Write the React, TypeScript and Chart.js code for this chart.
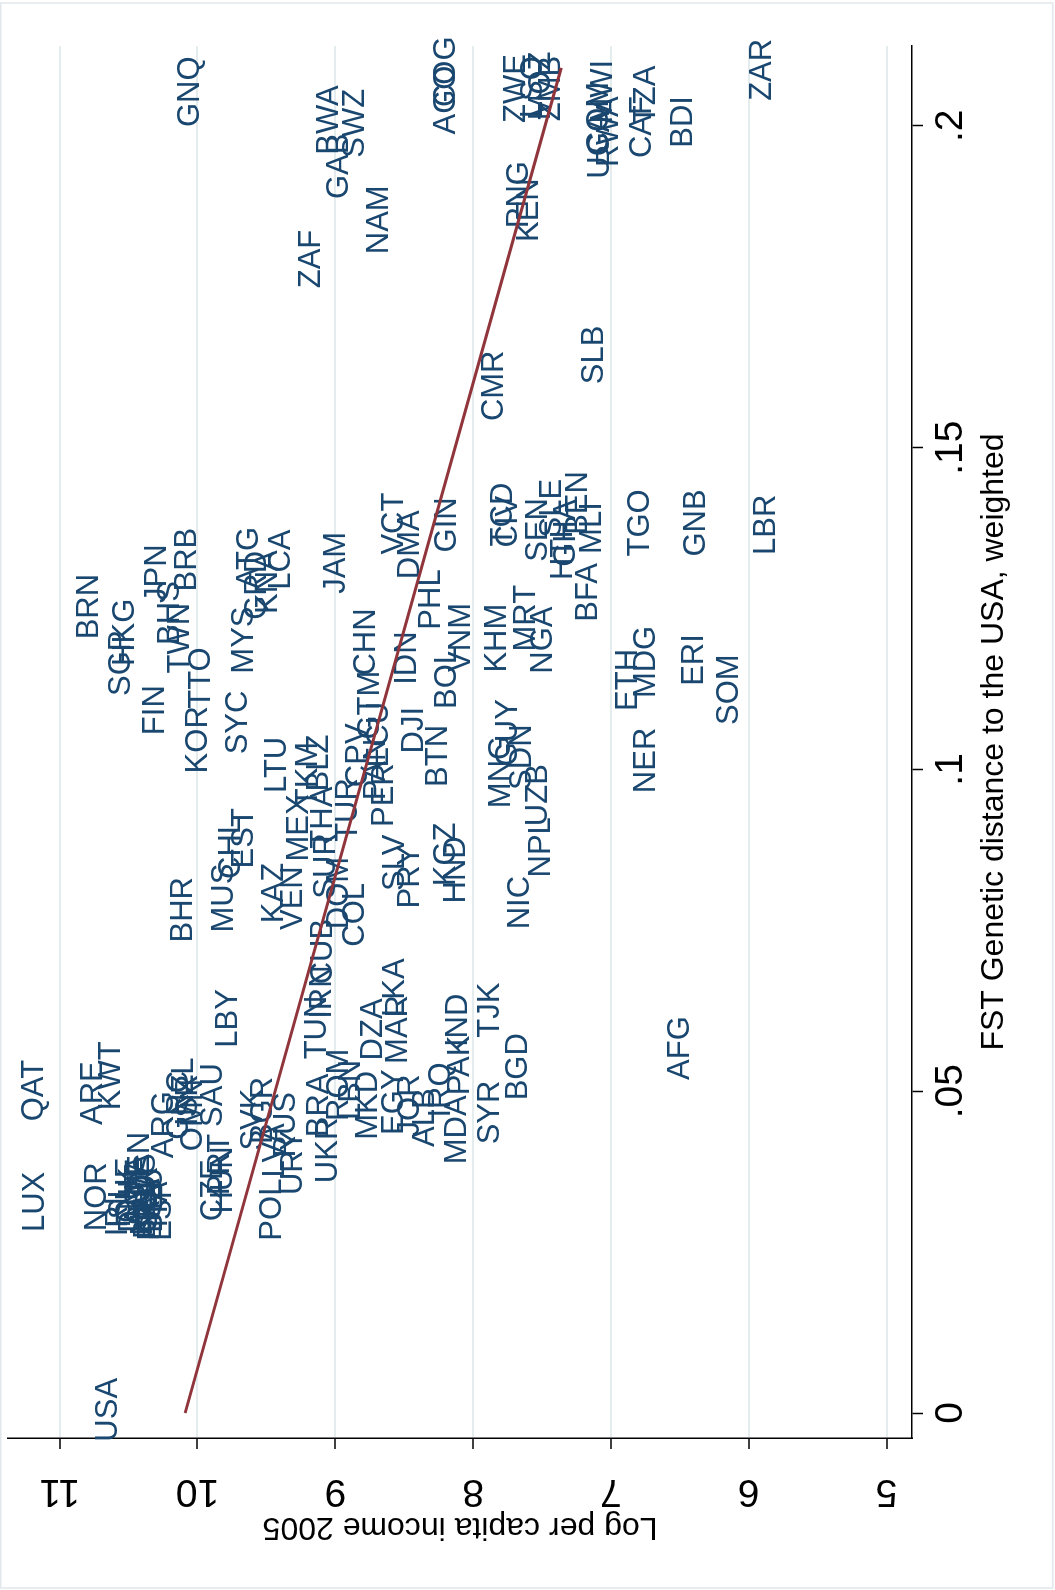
import React, { useEffect, useRef } from "react";
import { Chart, registerables } from "chart.js";

Chart.register(...registerables);

// ---------------- data ----------------
const countries = [
  "USA","LUX","QAT","ARE","KWT","NOR","IRL","ISL","CHE","DNK","CAN","AUT","NLD","BEL","SWE","AUS","GBR","FRA","DEU","ITA","ESP","ARG","NZL","GRC","ISR","OMN","SAU","CZE","PRT","HUN",
  "LBY","SVK","BGR","POL","RUS","LVA","URY","UKR","BRA","TUN","IRN","CUB","ROM","LBN","MKD","DZA","MAR","LKA","EGY","JOR","ALB","IRQ","MDA","PAK","IND","TJK","SYR","BGD","AFG",
  "BHR","MUS","CHL","EST","LTU","KAZ","VEN","MEX","TKM","BLZ","THA","SUR","TUR","DOM","COL","CPV","CHN","GTM","ECU","PAN","PER","SLV","PRY","IDN","DJI","BTN","PHL","DMA","VCT","JAM","GIN","VNM","BOL","KGZ","HND",
  "MNG","GUY","SDN","UZB","NPL","NIC","KHM","MRT","NGA","TCD","CIV","SEN","SLE","GHA","HTI","BEN","MLI","BFA","TGO","GNB","LBR","ETH","MDG","NER","ERI","SOM","CMR","SLB",
  "ZAF","GNQ","BWA","SWZ","GAB","NAM","AGO","COG","ZWE","LSO","MOZ","ZMB","PNG","KEN","MWI","RWA","UGA","COM","CAF","TZA","BDI","ZAR",
  "BRN","SGP","HKG","FIN","JPN","BHS","TWN","BRB","KOR","TTO","SYC","MYS","ATG","GRD","KNA","LCA"
];

const fstDistance = [
  0.0005,0.0328,0.0501,0.0497,0.0524,0.0336,0.0312,0.0324,0.0346,0.0331,0.0386,0.0338,0.0324,0.0316,0.0346,0.0354,0.0331,0.0316,0.0331,0.0324,0.0316,0.0448,0.0507,0.0478,0.0486,0.0463,0.0494,0.0346,0.0386,0.0362,
  0.0613,0.0456,0.0470,0.0316,0.0448,0.0408,0.0389,0.0408,0.0478,0.0599,0.0654,0.0717,0.0510,0.0502,0.0478,0.0596,0.0596,0.0661,0.0483,0.0478,0.0459,0.0502,0.0440,0.0540,0.0610,0.0626,0.0467,0.0538,0.0567,
  0.0782,0.0800,0.0878,0.0893,0.1007,0.0808,0.0800,0.0909,0.0992,0.1010,0.0925,0.0850,0.0937,0.0808,0.0774,0.1022,0.1198,0.1100,0.1054,0.1000,0.0960,0.0855,0.0833,0.1173,0.1061,0.1021,0.1264,0.1349,0.1382,0.1321,0.1380,0.1205,0.1142,0.0868,0.0844,
  0.0996,0.1057,0.1019,0.0960,0.0879,0.0793,0.1204,0.1235,0.1201,0.1396,0.1385,0.1372,0.1406,0.1367,0.1333,0.1414,0.1375,0.1275,0.1383,0.1383,0.1380,0.1139,0.1167,0.1014,0.1170,0.1124,0.1596,0.1644,
  0.1793,0.2053,0.2009,0.2004,0.1937,0.1854,0.2040,0.2084,0.2058,0.2060,0.2062,0.2058,0.1893,0.1869,0.2053,0.1991,0.1970,0.2012,0.1998,0.2048,0.2006,0.2087,
  0.1253,0.1165,0.1213,0.1092,0.1304,0.1243,0.1204,0.1326,0.1046,0.1142,0.1073,0.1201,0.1329,0.1286,0.1291,0.1326
];

const logIncome = [
  10.65,11.18,11.19,10.76,10.63,10.73,10.58,10.56,10.51,10.49,10.42,10.44,10.40,10.38,10.42,10.38,10.36,10.35,10.33,10.29,10.26,10.25,10.10,10.14,10.07,10.04,9.89,9.89,9.84,9.82,
  9.78,9.60,9.53,9.46,9.36,9.44,9.31,9.06,9.12,9.14,9.10,9.09,8.98,8.89,8.77,8.73,8.55,8.57,8.58,8.46,8.35,8.24,8.12,8.10,8.11,7.88,7.88,7.68,6.50,
  10.11,9.81,9.76,9.67,9.43,9.45,9.31,9.27,9.20,9.12,9.09,9.07,8.91,8.98,8.86,8.84,8.78,8.75,8.69,8.71,8.65,8.57,8.46,8.48,8.43,8.26,8.31,8.46,8.58,9.00,8.19,8.09,8.19,8.20,8.13,
  7.80,7.75,7.65,7.53,7.51,7.66,7.83,7.62,7.50,7.79,7.75,7.53,7.43,7.33,7.35,7.24,7.14,7.17,6.79,6.39,5.88,6.88,6.75,6.75,6.40,6.15,7.85,7.13,
  9.18,10.06,9.05,8.86,8.98,8.69,8.20,8.20,7.69,7.57,7.51,7.44,7.67,7.60,7.06,7.02,7.08,7.09,6.78,6.75,6.48,5.91,
  10.79,10.56,10.53,10.31,10.30,10.20,10.13,10.08,10.00,9.98,9.71,9.67,9.63,9.57,9.49,9.40
];

const fitFst = [0, 0.209];
const fitIncome = [10.09, 7.36];

const fstTicks = [0, 0.05, 0.1, 0.15, 0.2];
const fstTickLabels = ["0", ".05", ".1", ".15", ".2"];
const incomeTicks = [5, 6, 7, 8, 9, 10, 11];
const incomeTickLabels = ["5", "6", "7", "8", "9", "10", "11"];

const xTitle = "FST Genetic distance to the USA, weighted";
const yTitle = "Log per capita income 2005";

// ---------------- styles ----------------
const W = 1590;
const H = 1055;
const NAVY = "#1a476f";
const MAROON = "#90353b";
const GRID = "#e4ecee";
const FONT = '"Liberation Sans", Arial, Helvetica, sans-serif';

export default function App() {
  const ref = useRef<HTMLCanvasElement | null>(null);

  useEffect(() => {
    const canvas = ref.current;
    if (!canvas) return;

    const bgPlugin = {
      id: "bgFrame",
      beforeDraw(chart: any) {
        const ctx = chart.ctx;
        ctx.save();
        ctx.fillStyle = "#ffffff";
        ctx.fillRect(0, 0, chart.width, chart.height);
        ctx.strokeStyle = "#e2e7eb";
        ctx.lineWidth = 1.5;
        ctx.strokeRect(2, 0.75, 1585, 1052);
        ctx.restore();
      },
    };

    const labelPlugin = {
      id: "countryLabels",
      beforeDatasetsDraw(chart: any) {
        const meta = chart.getDatasetMeta(0);
        const ctx = chart.ctx;
        ctx.save();
        ctx.fillStyle = NAVY;
        ctx.font = `31px ${FONT}`;
        ctx.textAlign = "center";
        ctx.textBaseline = "middle";
        meta.data.forEach((el: any, i: number) => {
          ctx.fillText(countries[i], el.x, el.y + 1);
        });
        ctx.restore();
      },
    };

    const axisTextPlugin = {
      id: "axisText",
      afterDraw(chart: any) {
        const ctx = chart.ctx;
        const xs = chart.scales.x;
        const ys = chart.scales.y;
        const ca = chart.chartArea;
        ctx.save();
        ctx.fillStyle = "#000000";
        ctx.textAlign = "center";
        ctx.textBaseline = "middle";
        ctx.font = `39px ${FONT}`;
        fstTicks.forEach((v, i) => {
          ctx.fillText(fstTickLabels[i], xs.getPixelForValue(v), ca.bottom + 39);
        });
        incomeTicks.forEach((v, i) => {
          const py = ys.getPixelForValue(v);
          ctx.save();
          ctx.translate(ca.left - 53, py);
          ctx.rotate(-Math.PI / 2);
          ctx.fillText(incomeTickLabels[i], 0, 0);
          ctx.restore();
        });
        ctx.font = `32px ${FONT}`;
        ctx.fillText(xTitle, (ca.left + ca.right) / 2, ca.bottom + 82);
        ctx.save();
        ctx.translate(ca.left - 89, (ca.top + ca.bottom) / 2);
        ctx.rotate(-Math.PI / 2);
        ctx.fillText(yTitle, 0, 0);
        ctx.restore();
        ctx.restore();
      },
    };

    const points = countries.map((_, i) => ({ x: fstDistance[i], y: logIncome[i] }));
    const fit = fitFst.map((v, i) => ({ x: v, y: fitIncome[i] }));

    const chart = new Chart(canvas, {
      type: "scatter",
      data: {
        datasets: [
          {
            label: "countries",
            data: points,
            pointRadius: 0,
            pointHoverRadius: 0,
            showLine: false,
          },
          {
            label: "fit",
            data: fit,
            showLine: true,
            borderColor: MAROON,
            borderWidth: 3,
            pointRadius: 0,
            fill: false,
          },
        ],
      },
      options: {
        animation: false,
        responsive: false,
        maintainAspectRatio: false,
        events: [],
        layout: { padding: { left: 0, top: 8, right: 46, bottom: 0 } },
        plugins: { legend: { display: false }, tooltip: { enabled: false } },
        scales: {
          x: {
            type: "linear",
            position: "bottom",
            min: -0.00388,
            max: 0.2124,
            afterBuildTicks: (s: any) => {
              s.ticks = fstTicks.map((v) => ({ value: v }));
            },
            afterFit: (s: any) => {
              s.height = 143;
            },
            ticks: { display: false },
            grid: {
              display: true,
              drawOnChartArea: false,
              drawTicks: true,
              tickLength: 11,
              tickColor: "#000000",
              tickWidth: 1.5,
              color: "#000000",
            },
            border: { display: true, color: "#000000", width: 1.5 },
          },
          y: {
            type: "linear",
            position: "left",
            min: 4.815,
            max: 11.375,
            afterBuildTicks: (s: any) => {
              s.ticks = incomeTicks.map((v) => ({ value: v }));
            },
            afterFit: (s: any) => {
              s.width = 152;
            },
            ticks: { display: false },
            grid: {
              display: true,
              drawOnChartArea: true,
              drawTicks: true,
              tickLength: 11,
              tickColor: "#000000",
              tickWidth: 1.5,
              color: GRID,
              lineWidth: 2,
            },
            border: { display: true, color: "#000000", width: 1.5 },
          },
        },
      },
      plugins: [bgPlugin, labelPlugin, axisTextPlugin],
    });

    return () => {
      chart.destroy();
    };
  }, []);

  return (
    <div>
      <canvas
        ref={ref}
        width={W}
        height={H}
        style={{
          position: "absolute",
          left: 0,
          top: 0,
          width: `${W}px`,
          height: `${H}px`,
          transformOrigin: "0 0",
          transform: `rotate(-90deg) translateX(-${W}px)`,
        }}
      />
    </div>
  );
}
